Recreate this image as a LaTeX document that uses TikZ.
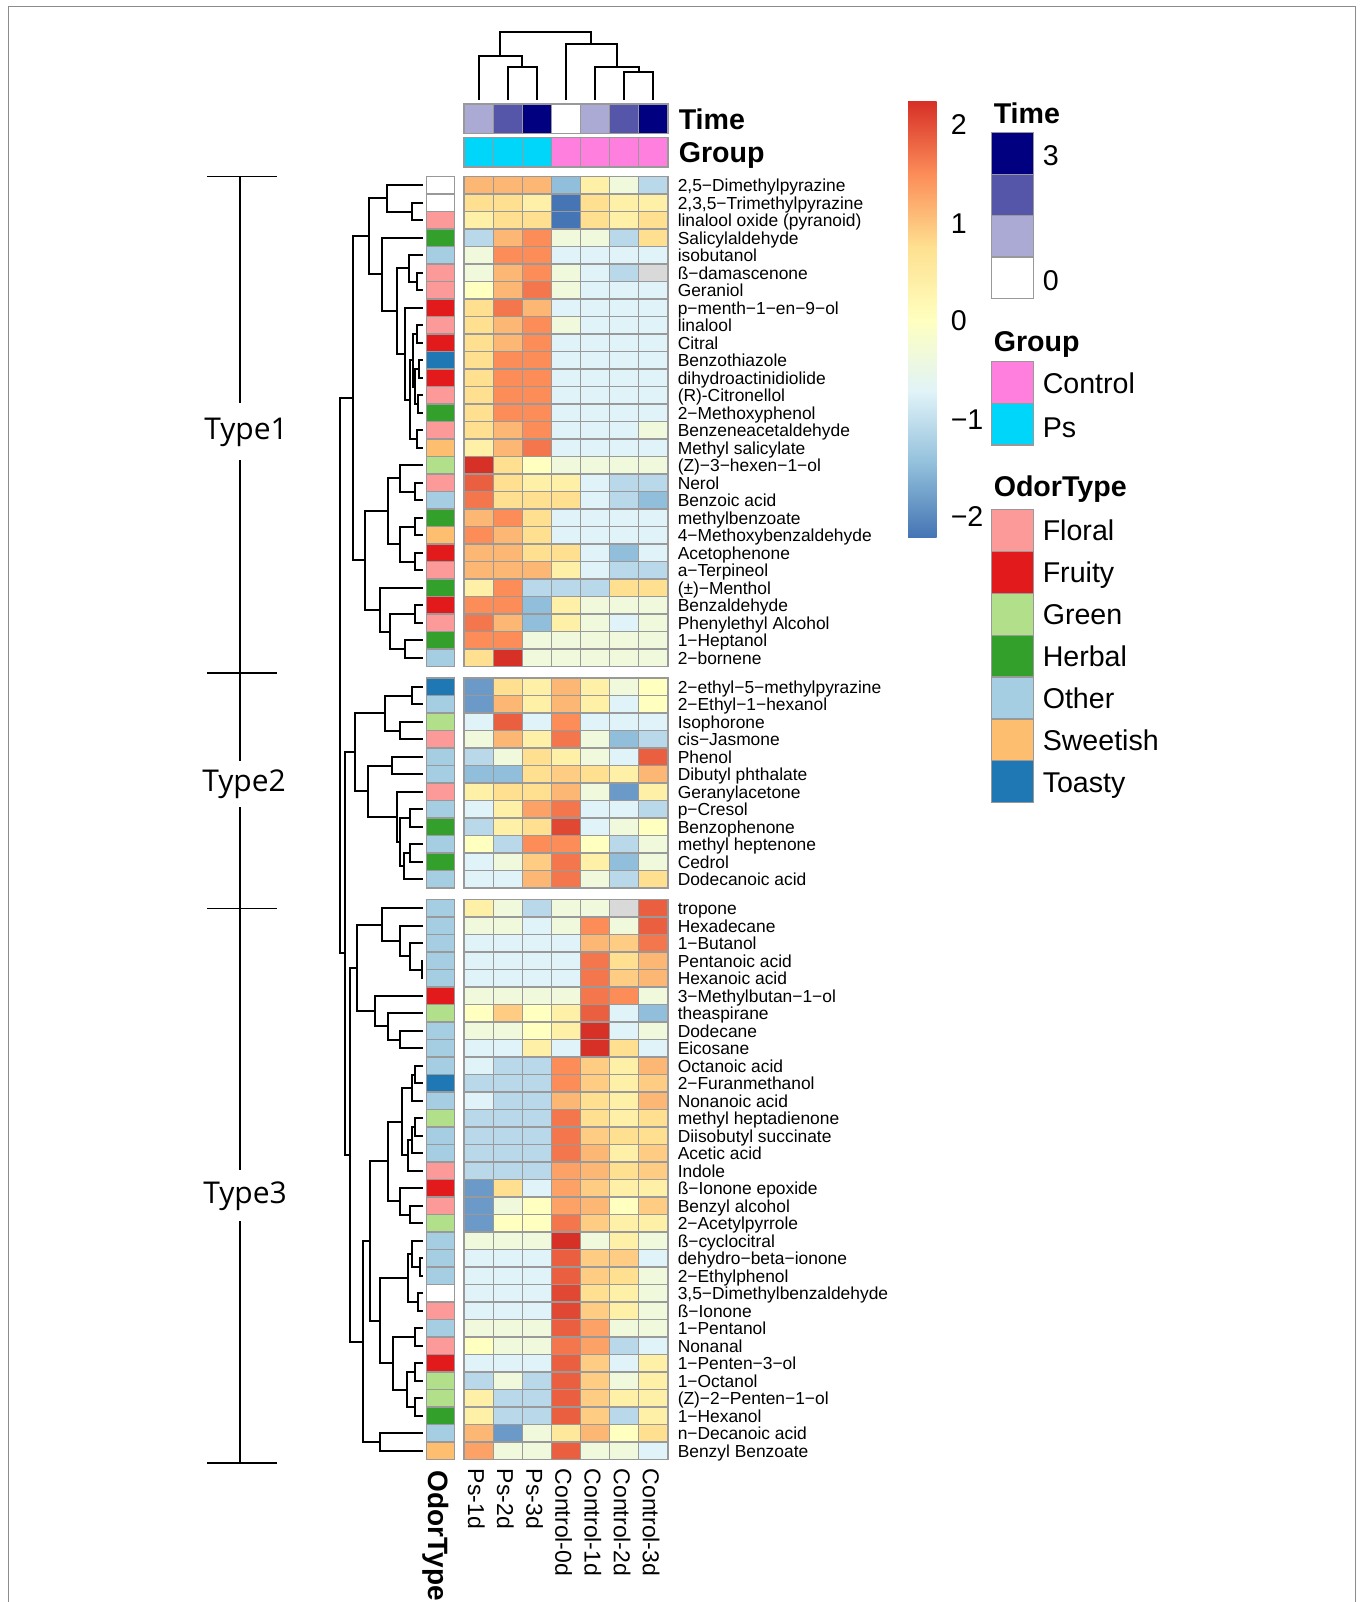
\documentclass[tikz,border=0pt]{standalone}
\usepackage{fontspec}
\setmainfont{Liberation Sans}
\newfontfamily\typefont{Open Sans}
\usetikzlibrary{calc}
\tikzset{every picture/.style={line width=0.75pt}}

% heat colours (RdYlBu, low to high)
\definecolor{hma}{HTML}{4575B4}
\definecolor{hmb}{HTML}{6B9AC8}
\definecolor{hmc}{HTML}{91BFDB}
\definecolor{hmd}{HTML}{B9D9EA}
\definecolor{hme}{HTML}{E0F3F8}
\definecolor{hmf}{HTML}{F0F9DC}
\definecolor{hmg}{HTML}{FFFFBF}
\definecolor{hmh}{HTML}{FFF0A8}
\definecolor{hmH}{HTML}{FEE89C}
\definecolor{hmi}{HTML}{FEE090}
\definecolor{hmI}{HTML}{FECC83}
\definecolor{hmj}{HTML}{FDB775}
\definecolor{hmJ}{HTML}{FDA267}
\definecolor{hmk}{HTML}{FC8D59}
\definecolor{hmK}{HTML}{F3764C}
\definecolor{hml}{HTML}{EA5F40}
\definecolor{hmL}{HTML}{E14834}
\definecolor{hmm}{HTML}{D73027}
\definecolor{hmn}{HTML}{D9D9D9}
% odor types
\definecolor{odfl}{HTML}{FB9A99}
\definecolor{odfr}{HTML}{E31A1C}
\definecolor{odgr}{HTML}{B2DF8A}
\definecolor{odhe}{HTML}{33A02C}
\definecolor{odot}{HTML}{A6CEE3}
\definecolor{odsw}{HTML}{FDBF6F}
\definecolor{odto}{HTML}{1F78B4}
\definecolor{odna}{HTML}{FFFFFF}
% time and group
\definecolor{tm0}{HTML}{FFFFFF}
\definecolor{tm1}{HTML}{AAAAD5}
\definecolor{tm2}{HTML}{5555AA}
\definecolor{tm3}{HTML}{000080}
\definecolor{gpco}{HTML}{FF7FDE}
\definecolor{gpps}{HTML}{00D6FA}

\tikzset{
  cell/.style={draw=black!40, line width=0.6pt},
  dendro/.style={line width=1pt},
  typeline/.style={line width=0.8pt},
  rowlab/.style={anchor=base west, inner sep=0pt, font=\fontsize{8.7}{9}\selectfont},
  collab/.style={rotate=-90, anchor=base west, inner sep=0pt, font=\fontsize{11.5}{12}\selectfont},
  leglab/.style={anchor=base west, inner sep=0pt, font=\fontsize{14.3}{16}\selectfont},
  legtitle/.style={anchor=base west, inner sep=0pt, font=\fontsize{14.3}{16}\selectfont\bfseries},
  typelab/.style={inner sep=0pt, font=\typefont\fontsize{15}{16}\selectfont},
}

% row dendrogram: new node #1 at x=#2 joining #3 and #4
\newcommand\dmerge[4]{%
  \path let \p1=(#3), \p2=(#4) in ({0.5pt*#2},{(\y1+\y2)/2}) coordinate (#1);
  \draw[dendro] (#3) -- (#3 -| #1) -- (#4 -| #1) -- (#4);}
% column dendrogram: new node #1 at y=#2 joining #3 and #4
\newcommand\tmerge[4]{%
  \path let \p1=(#3), \p2=(#4) in ({(\x1+\x2)/2},{-0.5pt*#2}) coordinate (#1);
  \draw[dendro] (#3) -- (#3 |- #1) -- (#4 |- #1) -- (#4);}
% one block of heatmap rows: top y, index offset, rows
\newcommand\hmblock[3]{%
  \foreach \odor/\codes/\lab [count=\k] in {#3} {
    \pgfmathsetmacro\yt{#1+(\k-1)*17.5}
    \pgfmathtruncatemacro\g{\k+#2}
    \draw[cell, fill=od\odor] (426.5,\yt) rectangle +(28,17.5);
    \foreach \cc [count=\j] in \codes
      \draw[cell, fill=hm\cc] ({464+(\j-1)*29.14},\yt) rectangle +(29.14,17.5);
    \coordinate (r\g) at (423,\yt+8.75);
    \node[rowlab] (lab\g) at (677,\yt+15) {\lab};
  }}

\begin{document}
\begin{tikzpicture}[x=0.5pt,y=-0.5pt]
\path[fill=white] (0,0) rectangle (1363,1602);
\useasboundingbox (0,0) rectangle (1363,1602);

%Shape: frame
\draw[black!45, line width=0.5pt] (8.2,1602) -- (8.2,6.1) -- (1355,6.1) -- (1355,1602);

%Shape: Time and Group annotation
\foreach \tm/\gp [count=\j] in {1/ps,2/ps,3/ps,0/co,1/co,2/co,3/co} {
  \draw[cell, fill=tm\tm] ({464+(\j-1)*29.14},104) rectangle +(29.14,29.5);
  \draw[cell, fill=gp\gp] ({464+(\j-1)*29.14},137.5) rectangle +(29.14,29.5);
  \coordinate (t\j) at ({464+(\j-0.5)*29.14},100);
}
\node[legtitle] (time) at (678,129.2) {Time};
\node[legtitle] (group) at (678,162.7) {Group};

% column dendrogram
\tmerge{u1}{67.3}{t2}{t3}
\tmerge{u2}{56}{t1}{u1}
\tmerge{u3}{71.7}{t6}{t7}
\tmerge{u4}{67.3}{t5}{u3}
\tmerge{u5}{44}{t4}{u4}
\tmerge{u6}{31.7}{u2}{u5}

% Type1 rows
\hmblock{176.5}{0}{
  na/{j,j,j,c,h,f,d}/{2,5−Dimethylpyrazine},
  na/{i,i,h,a,i,h,h}/{2,3,5−Trimethylpyrazine},
  fl/{h,i,i,a,i,h,i}/{linalool oxide (pyranoid)},
  he/{d,j,k,f,f,d,i}/{Salicylaldehyde},
  ot/{f,k,k,e,e,e,e}/{isobutanol},
  fl/{f,j,k,f,e,d,n}/{ß−damascenone},
  fl/{g,j,K,f,e,e,e}/{Geraniol},
  fr/{i,K,j,e,e,e,e}/{p−menth−1−en−9−ol},
  fl/{i,j,k,f,e,e,e}/{linalool},
  fr/{i,j,k,e,e,e,e}/{Citral},
  to/{i,k,k,e,e,e,e}/{Benzothiazole},
  fr/{i,k,k,e,e,e,e}/{dihydroactinidiolide},
  fl/{i,k,k,e,e,e,e}/{(R)-Citronellol},
  he/{i,k,k,e,e,e,e}/{2−Methoxyphenol},
  fl/{i,j,k,e,e,e,f}/{Benzeneacetaldehyde},
  sw/{h,j,K,e,e,e,e}/{Methyl salicylate},
  gr/{m,i,g,f,f,f,f}/{(Z)−3−hexen−1−ol},
  fl/{l,i,h,h,e,d,d}/{Nerol},
  ot/{K,i,i,i,e,d,c}/{Benzoic acid},
  he/{j,k,i,e,e,e,e}/{methylbenzoate},
  sw/{k,j,i,e,e,e,e}/{4−Methoxybenzaldehyde},
  fr/{j,j,i,i,e,c,e}/{Acetophenone},
  fl/{j,j,j,h,e,d,d}/{a−Terpineol},
  he/{h,k,d,d,d,i,i}/{(±)−Menthol},
  fr/{k,k,c,h,f,f,f}/{Benzaldehyde},
  fl/{K,j,c,h,f,e,f}/{Phenylethyl Alcohol},
  he/{k,k,f,f,f,f,f}/{1−Heptanol},
  ot/{i,m,f,f,f,f,f}/{2−bornene}}

% Type2 rows
\hmblock{678}{28}{
  to/{b,i,h,j,h,f,g}/{2−ethyl−5−methylpyrazine},
  ot/{b,j,h,j,h,e,g}/{2−Ethyl−1−hexanol},
  gr/{e,l,e,k,e,e,e}/{Isophorone},
  fl/{f,j,h,K,f,c,d}/{cis−Jasmone},
  ot/{d,f,i,h,f,e,l}/{Phenol},
  ot/{c,c,i,I,i,h,j}/{Dibutyl phthalate},
  fl/{h,i,i,j,f,b,h}/{Geranylacetone},
  ot/{e,h,J,K,e,e,d}/{p−Cresol},
  he/{d,h,i,L,e,f,g}/{Benzophenone},
  ot/{g,d,k,k,g,d,f}/{methyl heptenone},
  he/{e,f,I,K,h,c,f}/{Cedrol},
  ot/{e,e,j,K,f,d,i}/{Dodecanoic acid}}

% Type3 rows
\hmblock{899.5}{40}{
  ot/{h,f,d,f,f,n,l}/{tropone},
  ot/{f,f,e,f,k,f,l}/{Hexadecane},
  ot/{e,e,e,e,j,I,K}/{1−Butanol},
  ot/{e,e,e,e,K,i,j}/{Pentanoic acid},
  ot/{e,e,e,e,K,I,j}/{Hexanoic acid},
  fr/{f,f,f,f,K,k,f}/{3−Methylbutan−1−ol},
  gr/{g,I,g,h,l,e,c}/{theaspirane},
  ot/{f,f,g,h,m,e,f}/{Dodecane},
  ot/{e,e,h,e,m,i,e}/{Eicosane},
  ot/{e,d,d,k,I,h,j}/{Octanoic acid},
  to/{d,d,d,k,I,h,I}/{2−Furanmethanol},
  ot/{e,d,d,j,i,h,j}/{Nonanoic acid},
  gr/{d,d,d,K,i,h,i}/{methyl heptadienone},
  ot/{d,d,d,K,I,i,i}/{Diisobutyl succinate},
  ot/{d,d,d,K,j,h,I}/{Acetic acid},
  fl/{d,d,d,J,j,i,I}/{Indole},
  fr/{b,i,e,J,I,h,h}/{ß−Ionone epoxide},
  fl/{b,f,g,J,j,g,I}/{Benzyl alcohol},
  gr/{b,g,g,K,I,h,h}/{2−Acetylpyrrole},
  ot/{f,f,f,m,f,h,f}/{ß−cyclocitral},
  ot/{e,e,e,l,I,I,e}/{dehydro−beta−ionone},
  ot/{e,e,e,l,I,i,f}/{2−Ethylphenol},
  na/{e,e,e,L,i,h,f}/{3,5−Dimethylbenzaldehyde},
  fl/{e,e,e,L,I,h,f}/{ß−Ionone},
  ot/{f,f,f,l,J,f,f}/{1−Pentanol},
  fl/{g,f,f,K,J,d,e}/{Nonanal},
  fr/{e,e,e,l,I,e,h}/{1−Penten−3−ol},
  gr/{d,f,d,l,I,f,h}/{1−Octanol},
  gr/{h,d,d,l,I,h,h}/{(Z)−2−Penten−1−ol},
  he/{h,d,d,l,I,d,h}/{1−Hexanol},
  ot/{j,b,f,H,j,g,i}/{n−Decanoic acid},
  sw/{J,f,f,l,f,f,e}/{Benzyl Benzoate}}

% row dendrogram, Type1
\dmerge{n1}{411.7}{r2}{r3}
\dmerge{n2}{386.7}{r1}{n1}
\dmerge{n3}{416.7}{r6}{r7}
\dmerge{n4}{409.3}{r5}{n3}
\dmerge{n5}{417}{r9}{r10}
\dmerge{n6}{419}{r11}{r12}
\dmerge{n7}{418}{r13}{r14}
\dmerge{n8}{415}{n6}{n7}
\dmerge{n9}{413}{n5}{n8}
\dmerge{n10}{416.7}{r15}{r16}
\dmerge{n11}{410}{n9}{n10}
\dmerge{n12}{405}{r8}{n11}
\dmerge{n13}{396.7}{n4}{n12}
\dmerge{n14}{381.7}{r4}{n13}
\dmerge{n15}{369.3}{n2}{n14}
\dmerge{n16}{415}{r18}{r19}
\dmerge{n17}{400}{r17}{n16}
\dmerge{n18}{415}{r20}{r21}
\dmerge{n19}{415}{r22}{r23}
\dmerge{n20}{400}{n18}{n19}
\dmerge{n21}{388.3}{n17}{n20}
\dmerge{n22}{415}{r25}{r26}
\dmerge{n23}{405}{r27}{r28}
\dmerge{n24}{390}{n22}{n23}
\dmerge{n25}{380}{r24}{n24}
\dmerge{n26}{365}{n21}{n25}
\dmerge{n27}{353.3}{n15}{n26}
% Type2
\dmerge{b1}{411.7}{r29}{r30}
\dmerge{b2}{400}{r31}{r32}
\dmerge{b3}{385}{b1}{b2}
\dmerge{b4}{391.7}{r33}{r34}
\dmerge{b5}{410}{r36}{r37}
\dmerge{b6}{410}{r38}{r39}
\dmerge{b7}{404}{b6}{r40}
\dmerge{b8}{400}{b5}{b7}
\dmerge{b9}{396.7}{r35}{b8}
\dmerge{b10}{368.3}{b4}{b9}
\dmerge{b11}{355}{b3}{b10}
% Type3
\dmerge{c1}{421.7}{r44}{r45}
\dmerge{c2}{410}{r43}{c1}
\dmerge{c3}{400}{r42}{c2}
\dmerge{c4}{381.7}{r41}{c3}
\dmerge{c5}{400}{r48}{r49}
\dmerge{c6}{388.3}{r47}{c5}
\dmerge{c7}{375}{r46}{c6}
\dmerge{c8}{356.7}{c4}{c7}
\dmerge{c9}{415}{r50}{r51}
\dmerge{c10}{411.7}{c9}{r52}
\dmerge{c11}{415}{r53}{r54}
\dmerge{c12}{411.7}{c11}{r55}
\dmerge{c13}{408.3}{c12}{r56}
\dmerge{c14}{401.7}{c10}{c13}
\dmerge{c15}{410}{r58}{r59}
\dmerge{c16}{400}{r57}{c15}
\dmerge{c17}{388.3}{c14}{c16}
\dmerge{c18}{420}{r61}{r62}
\dmerge{c19}{412}{r60}{c18}
\dmerge{c20}{418}{r63}{r64}
\dmerge{c21}{408}{c19}{c20}
\dmerge{c22}{415}{r65}{r66}
\dmerge{c23}{415}{r67}{r68}
\dmerge{c24}{415}{r69}{r70}
\dmerge{c25}{406.7}{c23}{c24}
\dmerge{c26}{393.3}{c22}{c25}
\dmerge{c27}{380}{c21}{c26}
\dmerge{c28}{370}{c17}{c27}
\dmerge{c29}{380}{r71}{r72}
\dmerge{c30}{363.3}{c28}{c29}
\dmerge{c31}{350}{c8}{c30}
\dmerge{d1}{345}{b11}{c31}
\dmerge{root}{340}{n27}{d1}

% column labels
\node[collab, font=\fontsize{14}{15}\selectfont\bfseries] (odorlab) at (428,1470) {OdorType};
\foreach \lab [count=\j] in {Ps-1d,Ps-2d,Ps-3d,Control-0d,Control-1d,Control-2d,Control-3d}
  \node[collab] (col\j) at ({464+(\j-0.5)*29.14-10.5},1468) {\lab};

% Type brackets
\node[typelab] (type1) at (246,432) {Type1};
\node[typelab] (type2) at (244,784) {Type2};
\node[typelab] (type3) at (245,1196) {Type3};
\foreach \yy in {176.5,673,908.5,1463}
  \draw[typeline] (207,\yy) -- (277,\yy);
\draw[typeline] (240,176.5) -- (240,403);
\draw[typeline] (240,460) -- (240,761);
\draw[typeline] (240,807) -- (240,1170);
\draw[typeline] (240,1221) -- (240,1463);

%Shape: colour key
\foreach \ca/\cb [count=\s] in {m/k,k/i,i/g,g/e,e/c,c/a}
  \shade[top color=hm\ca, bottom color=hm\cb] (908,{101.7+(\s-1)*72.5}) rectangle (936.7,{101.7+\s*72.5+0.4});
\node[leglab] (k2) at (950,134.7) {2};
\node[leglab] (k1) at (950,233) {1};
\node[leglab] (k0) at (950,330.3) {0};
\node[leglab] (km1) at (950,429) {−1};
\node[leglab] (km2) at (950,526) {−2};

% Time legend
\node[legtitle] (ltime) at (993,123.3) {Time};
\foreach \tm [count=\s] in {3,2,1,0}
  \draw[cell, fill=tm\tm] (991.7,{132.7+(\s-1)*41.4}) rectangle +(41.6,41.4);
\node[leglab] (lt3) at (1042,165.3) {3};
\node[leglab] (lt0) at (1042,290.3) {0};

% Group legend
\node[legtitle] (lgroup) at (993,351) {Group};
\draw[cell, fill=gpco] (991.7,361.7) rectangle +(41.6,41.6);
\draw[cell, fill=gpps] (991.7,403.3) rectangle +(41.6,41.6);
\node[leglab] (lco) at (1042,393.6) {Control};
\node[leglab] (lps) at (1042,437) {Ps};

% OdorType legend
\node[legtitle] (lodor) at (993,496) {OdorType};
\foreach \od/\name [count=\s] in {fl/Floral,fr/Fruity,gr/Green,he/Herbal,ot/Other,sw/Sweetish,to/Toasty} {
  \draw[cell, fill=od\od] (991.7,{509.4+(\s-1)*41.9}) rectangle +(41.6,41.9);
  \node[leglab] (lod\s) at (1042,{509.4+(\s-0.5)*41.9+10.3}) {\name};
}
\end{tikzpicture}
\end{document}
